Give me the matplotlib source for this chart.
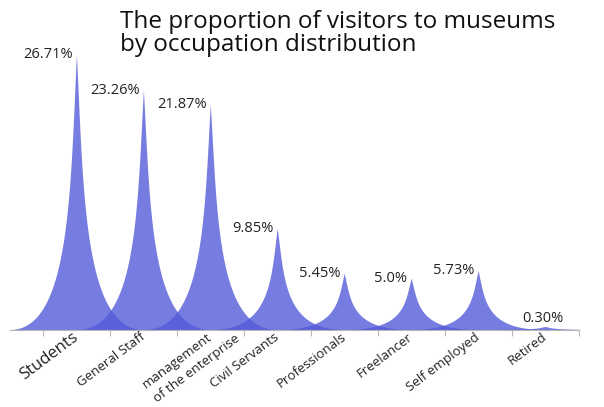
import numpy as np
import matplotlib
matplotlib.use('Agg')
import matplotlib.pyplot as plt

plt.rcParams['font.family'] = ['Open Sans', 'DejaVu Sans']

# Occupations and their share of museum visitors (%)
categories = ['Students', 'General Staff', 'management\nof the enterprise', 'Civil Servants',
              'Professionals', 'Freelancer', 'Self employed', 'Retired']
shares = [26.71, 23.26, 21.87, 9.85, 5.45, 5.0, 5.73, 0.30]
share_labels = ['26.71%', '23.26%', '21.87%', '9.85%', '5.45%', '5.0%', '5.73%', '0.30%']

spike_color = '#5158d8'
text_color = '#222222'
rot = 37
tick_fs = 9.5
tick_pad = 4


def spike(center, height, half_width=1.0, n=80):
    # Curved spike: cubic bezier from the base corner up to the tip, mirrored
    t = np.linspace(0, 1, n)
    p0, p1, p2, p3 = (1.0, 0.0), (0.1, 0.0), (0.1, 0.5), (0.0, 1.0)
    bx = (1 - t)**3 * p0[0] + 3 * (1 - t)**2 * t * p1[0] + 3 * (1 - t) * t**2 * p2[0] + t**3 * p3[0]
    by = (1 - t)**3 * p0[1] + 3 * (1 - t)**2 * t * p1[1] + 3 * (1 - t) * t**2 * p2[1] + t**3 * p3[1]
    xs = np.concatenate([center + bx * half_width, center - bx[::-1] * half_width])
    ys = np.concatenate([by, by[::-1]]) * height
    return xs, ys


fig = plt.figure(figsize=(6.04, 4.07), dpi=100)
ax = fig.add_axes([10 / 604, (407 - 330) / 407, 569 / 604, 309 / 407])

x = np.arange(len(categories))
for xi, val in zip(x, shares):
    xs, ys = spike(xi, val)
    ax.fill(xs, ys, color=spike_color, alpha=0.78, linewidth=0, zorder=2)

for xi, val, lab in zip(x, shares, share_labels):
    if val < 1:
        ax.annotate(lab, (xi, val), xytext=(-2, 6), textcoords='offset points',
                    ha='center', va='center', fontsize=10.5, color=text_color)
    else:
        ax.annotate(lab, (xi, val), xytext=(-3, 0), textcoords='offset points',
                    ha='right', va='center', fontsize=10.5, color=text_color)

ax.set_xlim(-1, 7.5)
ax.set_ylim(0, 30)

# first line of each name goes on the tick; extra lines are hung below it, left aligned
first_lines = [c.split('\n')[0] for c in categories]
ax.set_xticks(x)
ticklabels = ax.set_xticklabels(first_lines, rotation=rot, ha='right', va='center',
                                rotation_mode='anchor', fontsize=tick_fs, color=text_color)
ticklabels[0].set_fontsize(12)
ax.set_xticks(np.arange(-0.5, len(categories)), minor=True)
ax.tick_params(axis='x', which='major', length=0, pad=tick_pad)
ax.tick_params(axis='x', which='minor', length=4, color='#b8b8b8', width=0.8)
ax.set_yticks([])

renderer = fig.canvas.get_renderer()
th = np.radians(rot)
line_gap = 13  # points between wrapped lines
for xi, name in zip(x, categories):
    parts = name.split('\n')
    if len(parts) < 2:
        continue
    probe = fig.text(0, 0, parts[0], fontsize=tick_fs)
    w1 = probe.get_window_extent(renderer).width * 72 / fig.dpi
    probe.remove()
    for k, extra in enumerate(parts[1:], start=1):
        dx = -w1 * np.cos(th) + k * line_gap * np.sin(th)
        dy = -tick_pad - w1 * np.sin(th) - k * line_gap * np.cos(th)
        ax.annotate(extra, (xi, 0), xytext=(dx, dy), textcoords='offset points',
                    rotation=rot, rotation_mode='anchor', ha='left', va='center',
                    fontsize=tick_fs, color=text_color, annotation_clip=False)

for side in ['top', 'right', 'left']:
    ax.spines[side].set_visible(False)
ax.spines['bottom'].set_color('#b8b8b8')
ax.spines['bottom'].set_linewidth(0.8)

fig.text(120 / 604, 1 - 28 / 407, 'The proportion of visitors to museums',
         fontsize=17.5, color='#111111', ha='left', va='baseline')
fig.text(120 / 604, 1 - 51 / 407, 'by occupation distribution',
         fontsize=17.5, color='#111111', ha='left', va='baseline')

fig.savefig('out.png', dpi=100)
plt.close(fig)
